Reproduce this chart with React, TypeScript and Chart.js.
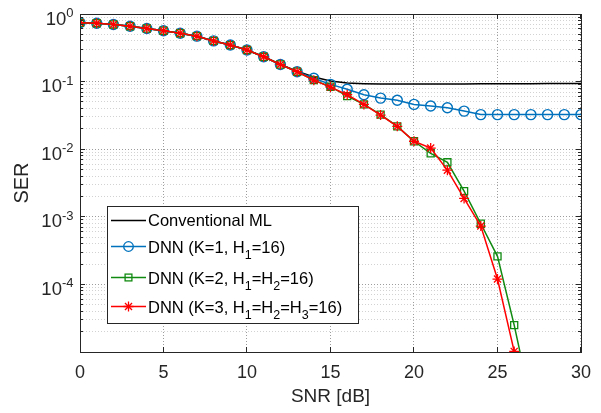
import { useEffect, useRef } from 'react';
import { Chart, registerables } from 'chart.js';

Chart.register(...registerables);

// ---------- data ----------
const snrDb = [0, 1, 2, 3, 4, 5, 6, 7, 8, 9, 10, 11, 12, 13, 14, 15, 16, 17, 18, 19, 20, 21, 22, 23, 24, 25, 26, 27, 28, 29, 30];

const mlSER = [0.74, 0.73, 0.70, 0.66, 0.61, 0.566, 0.52, 0.47, 0.40, 0.347, 0.293, 0.233, 0.179, 0.143, 0.117, 0.102, 0.095, 0.093, 0.092, 0.092, 0.092, 0.092, 0.092, 0.092, 0.093, 0.093, 0.093, 0.093, 0.094, 0.094, 0.094];

const dnnK1SER = [0.74, 0.73, 0.70, 0.66, 0.61, 0.566, 0.52, 0.47, 0.40, 0.347, 0.293, 0.233, 0.179, 0.14, 0.112, 0.091, 0.077, 0.064, 0.057, 0.053, 0.046, 0.0435, 0.041, 0.0366, 0.0325, 0.0325, 0.0325, 0.0325, 0.0325, 0.0325, 0.0325];

const dnnK2SER = [0.74, 0.73, 0.70, 0.66, 0.61, 0.566, 0.52, 0.47, 0.40, 0.347, 0.293, 0.233, 0.179, 0.14, 0.105, 0.084, 0.061, 0.046, 0.0325, 0.0218, 0.0131, 0.0087, 0.0064, 0.0024, 0.00079, 0.00026, 0.000025, 0.0000018, null, null, null];

const dnnK3SER = [0.74, 0.73, 0.70, 0.66, 0.61, 0.566, 0.52, 0.47, 0.40, 0.347, 0.293, 0.233, 0.179, 0.14, 0.105, 0.083, 0.064, 0.046, 0.032, 0.0218, 0.0131, 0.0104, 0.0049, 0.00187, 0.00073, 0.00012, 0.0000102, 0.0000008, null, null, null];

const seriesLabels = ['Conventional ML', 'DNN (K=1, H_1=16)', 'DNN (K=2, H_1=H_2=16)', 'DNN (K=3, H_1=H_2=H_3=16)'];

const xTickStep = 5;
const yDecadeExponents = [0, -1, -2, -3, -4];
const yMinExp = -5;
const yMaxExp = 0;

const xTitle = 'SNR [dB]';
const yTitle = 'SER';

// ---------- style ----------
const FONT = '"Liberation Sans", Arial, Helvetica, sans-serif';
const AXIS_COLOR = '#262626';
const MAJOR_GRID = '#9c9c9c';
const MINOR_GRID = '#d2d2d2';

function buildLogTicks() {
  const ticks: { value: number; major: boolean }[] = [];
  for (let e = yMinExp; e <= yMaxExp; e++) {
    for (let m = 1; m <= 9; m++) {
      const v = m * Math.pow(10, e);
      ticks.push({ value: v, major: m === 1 });
      if (e === yMaxExp) break;
    }
  }
  return ticks;
}

const toPoints = (arr: (number | null)[]) => snrDb.map((x, i) => ({ x, y: arr[i] }));

const align = (p: number) => Math.round(p - 0.5) + 0.5;

const matlabPlugin = {
  id: 'matlabDecor',
  afterDraw(chart: any) {
    const { ctx, chartArea, scales } = chart;
    const { left, right, top, bottom } = chartArea;
    const xs = scales.x;
    const ys = scales.y;
    ctx.save();

    // inward tick marks
    ctx.strokeStyle = AXIS_COLOR;
    ctx.lineWidth = 1;
    ctx.setLineDash([]);
    ctx.beginPath();
    xs.ticks.forEach((t: any) => {
      const px = align(xs.getPixelForValue(t.value));
      ctx.moveTo(px, bottom);
      ctx.lineTo(px, bottom - 5);
      ctx.moveTo(px, top);
      ctx.lineTo(px, top + 5);
    });
    ys.ticks.forEach((t: any) => {
      const py = align(ys.getPixelForValue(t.value));
      const len = t.major ? 5 : 3;
      ctx.moveTo(left, py);
      ctx.lineTo(left + len, py);
      ctx.moveTo(right, py);
      ctx.lineTo(right - len, py);
    });
    ctx.stroke();

    // frame
    ctx.strokeRect(align(left), align(top), Math.round(right - left), Math.round(bottom - top));

    // y tick labels 10^e
    ctx.fillStyle = AXIS_COLOR;
    ctx.textBaseline = 'alphabetic';
    ctx.textAlign = 'left';
    yDecadeExponents.forEach((e) => {
      const py = ys.getPixelForValue(Math.pow(10, e));
      const sup = String(e);
      ctx.font = `13px ${FONT}`;
      const wSup = ctx.measureText(sup).width;
      ctx.font = `18.5px ${FONT}`;
      const wBase = ctx.measureText('10').width;
      const xr = 73.5;
      ctx.fillText('10', xr - wSup - wBase, py + 10.5);
      ctx.font = `13px ${FONT}`;
      ctx.fillText(sup, xr - wSup, py + 3);
    });

    // legend
    const bx = 107, by = 206, bw = 252, bh = 118;
    ctx.fillStyle = '#ffffff';
    ctx.fillRect(bx, by, bw, bh);
    ctx.strokeStyle = AXIS_COLOR;
    ctx.lineWidth = 1;
    ctx.strokeRect(bx + 0.5, by + 0.5, bw - 1, bh - 1);
    const rowYs = [220, 246.5, 277.5, 306.5];
    chart.data.datasets.forEach((ds: any, i: number) => {
      const y = rowYs[i];
      const ly = align(y);
      ctx.strokeStyle = ds.borderColor;
      ctx.lineWidth = ds.borderWidth;
      ctx.beginPath();
      ctx.moveTo(111, ly);
      ctx.lineTo(146, ly);
      ctx.stroke();
      const mx = 128.5;
      ctx.lineWidth = 1.3;
      if (ds.pointRadius > 0) {
        ctx.beginPath();
        if (ds.pointStyle === 'circle') {
          ctx.arc(mx, ly, 4.8, 0, Math.PI * 2);
          ctx.stroke();
        } else if (ds.pointStyle === 'rect') {
          ctx.strokeRect(mx - 3.4, ly - 3.4, 6.8, 6.8);
        } else if (ds.pointStyle === 'star') {
          const r = 5;
          for (let k = 0; k < 4; k++) {
            const a = (k * Math.PI) / 4;
            ctx.moveTo(mx - r * Math.cos(a), ly - r * Math.sin(a));
            ctx.lineTo(mx + r * Math.cos(a), ly + r * Math.sin(a));
          }
          ctx.stroke();
        }
      }
      // rich text with subscripts
      const parts = String(ds.label).split(/_(\d)/);
      let tx = 148;
      ctx.fillStyle = '#000000';
      parts.forEach((p, k) => {
        if (k % 2 === 0) {
          ctx.font = `16.5px ${FONT}`;
          ctx.fillText(p, tx, y + 6);
        } else {
          ctx.font = `12.5px ${FONT}`;
          ctx.fillText(p, tx, y + 12);
        }
        tx += ctx.measureText(p).width;
      });
    });

    ctx.restore();
  },
};

export default function App() {
  const canvasRef = useRef<HTMLCanvasElement | null>(null);

  useEffect(() => {
    const canvas = canvasRef.current;
    if (!canvas) return;
    const logTicks = buildLogTicks();
    const chart = new Chart(canvas, {
      type: 'line',
      data: {
        datasets: [
          {
            label: seriesLabels[0],
            data: toPoints(mlSER),
            borderColor: '#000000',
            borderWidth: 1.5,
            pointRadius: 0,
            order: 4,
          },
          {
            label: seriesLabels[1],
            data: toPoints(dnnK1SER),
            borderColor: '#0072BD',
            borderWidth: 1.5,
            pointStyle: 'circle',
            pointRadius: 5,
            pointBorderWidth: 1.4,
            pointBorderColor: '#0072BD',
            pointBackgroundColor: 'rgba(0,0,0,0)',
            order: 3,
          },
          {
            label: seriesLabels[2],
            data: toPoints(dnnK2SER),
            borderColor: '#108a10',
            borderWidth: 1.5,
            pointStyle: 'rect',
            pointRadius: 5,
            pointBorderWidth: 1.3,
            pointBorderColor: '#108a10',
            pointBackgroundColor: 'rgba(0,0,0,0)',
            order: 2,
          },
          {
            label: seriesLabels[3],
            data: toPoints(dnnK3SER),
            borderColor: '#ff0000',
            borderWidth: 1.5,
            pointStyle: 'star',
            pointRadius: 5,
            pointBorderWidth: 1.3,
            pointBorderColor: '#ff0000',
            pointBackgroundColor: 'rgba(0,0,0,0)',
            order: 1,
          },
        ] as any,
      },
      options: {
        animation: false,
        responsive: false,
        maintainAspectRatio: false,
        layout: { padding: { top: 14, right: 20, left: 0, bottom: 0 } },
        plugins: { legend: { display: false }, tooltip: { enabled: false } },
        elements: { line: { tension: 0 } },
        scales: {
          x: {
            type: 'linear',
            min: 0,
            max: 30,
            ticks: { stepSize: xTickStep, font: { family: FONT, size: 18 }, color: AXIS_COLOR, padding: 10, maxRotation: 0 },
            grid: { color: MAJOR_GRID, lineWidth: 1, drawTicks: false },
            border: { display: false, dash: [1, 2] },
            title: { display: true, text: xTitle, font: { family: FONT, size: 19 }, color: AXIS_COLOR, padding: { top: 0, bottom: 5 } },
            afterFit: (s: any) => {
              s.height = 61;
            },
          },
          y: {
            type: 'logarithmic',
            min: Math.pow(10, yMinExp),
            max: Math.pow(10, yMaxExp),
            afterBuildTicks: (s: any) => {
              s.ticks = logTicks.map((t) => ({ ...t }));
            },
            ticks: { display: false },
            grid: {
              color: (c: any) => (c.tick && c.tick.major ? MAJOR_GRID : MINOR_GRID),
              lineWidth: 1,
              drawTicks: false,
            },
            border: { display: false, dash: [1, 2] },
            title: { display: true, text: yTitle, font: { family: FONT, size: 20 }, color: AXIS_COLOR, padding: { top: 10, bottom: 0 } },
            afterFit: (s: any) => {
              s.width = 80;
            },
          },
        },
      } as any,
      plugins: [matlabPlugin],
    });
    return () => chart.destroy();
  }, []);

  return (
    <div style={{ position: 'absolute', left: 0, top: 0, width: 601, height: 413, background: '#ffffff' }}>
      <canvas ref={canvasRef} width={601} height={413} style={{ display: 'block' }} />
    </div>
  );
}
